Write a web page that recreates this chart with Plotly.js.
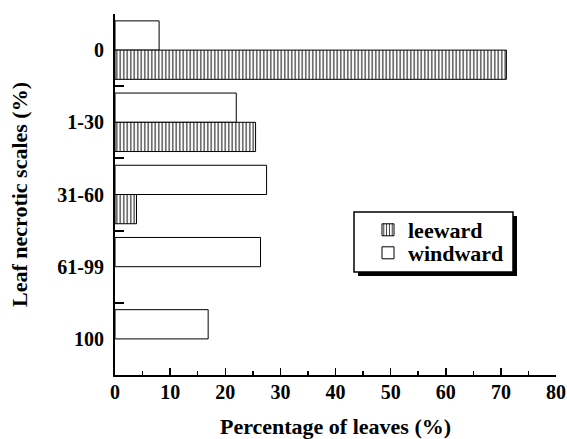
<!DOCTYPE html>
<html>
<head>
<meta charset="utf-8">
<script src="https://cdn.plot.ly/plotly-3.0.1.min.js"></script>
<style>html,body{margin:0;padding:0;background:#fff;}#chart{width:567px;height:439px;}</style>
</head>
<body>
<div id="chart"></div>
<script>
var categories = ['0', '1-30', '31-60', '61-99', '100'];
var windward = [8, 22, 27.5, 26.4, 16.9];
var leeward = [71, 25.5, 3.9, null, null];
var xTicks = [0, 10, 20, 30, 40, 50, 60, 70, 80];

var fam = '"Liberation Serif", "Times New Roman", serif';
function f(sz) { return {family: fam, size: sz, color: '#000', weight: 'bold'}; }

var traces = [
  {
    type: 'bar', orientation: 'h', name: 'windward',
    y: categories, x: windward, legend: 'legend2',
    marker: {color: '#fff', line: {color: '#000', width: 1}}
  },
  {
    type: 'bar', orientation: 'h', name: 'leeward',
    y: categories, x: leeward, legend: 'legend',
    marker: {color: '#fff', line: {color: '#000', width: 1},
      pattern: {shape: '|', size: 3.5, solidity: 0.35, fgcolor: '#333', bgcolor: '#fff'}}
  }
];

function px(x) { return (x - 115) / 441; }
function py(y) { return (375 - y) / 361; }

function leg(yc) {
  return {
    x: px(368), y: py(yc), xanchor: 'left', yanchor: 'middle',
    bgcolor: 'rgba(0,0,0,0)', borderwidth: 0,
    font: f(22), tracegroupgap: 0, itemwidth: 30
  };
}

var layout = {
  width: 567, height: 439,
  margin: {l: 115, r: 11, t: 14, b: 64},
  paper_bgcolor: '#fff', plot_bgcolor: '#fff',
  font: f(20),
  barmode: 'group', bargap: 0.19, bargroupgap: 0,
  showlegend: true,
  legend: leg(230),
  legend2: leg(253),
  xaxis: {
    range: [0, 80], tickvals: xTicks, ticktext: xTicks.map(String),
    ticks: 'inside', ticklen: 7, tickwidth: 1.5, tickcolor: '#000',
    minor: {dtick: 5, tick0: 0, ticks: 'inside', ticklen: 4, tickwidth: 1.5, tickcolor: '#000'},
    showline: true, linecolor: '#000', linewidth: 2,
    showgrid: false, zeroline: false,
    tickfont: f(20), ticklabelstandoff: -2,
    title: {text: 'Percentage of leaves (%)', standoff: 17, font: f(22)}
  },
  yaxis: {
    type: 'category', categoryorder: 'array', categoryarray: categories,
    autorange: 'reversed',
    tickson: 'boundaries', ticks: 'inside', ticklen: 9, tickwidth: 2, tickcolor: '#000',
    showline: true, linecolor: '#000', linewidth: 2,
    showgrid: false, zeroline: false,
    tickfont: f(20), ticklabelstandoff: 5,
    title: {text: 'Leaf necrotic scales (%)', standoff: 24, font: f(22)}
  },
  shapes: [
    {type: 'rect', xref: 'paper', yref: 'paper', layer: 'above',
     x0: px(358), x1: px(517), y0: py(276), y1: py(216),
     fillcolor: '#000', line: {width: 0}},
    {type: 'rect', xref: 'paper', yref: 'paper', layer: 'above',
     x0: px(354), x1: px(513), y0: py(272), y1: py(212),
     fillcolor: '#fff', line: {color: '#000', width: 1.5}}
  ]
};

Plotly.newPlot('chart', traces, layout, {displayModeBar: false, staticPlot: true});
</script>
</body>
</html>
